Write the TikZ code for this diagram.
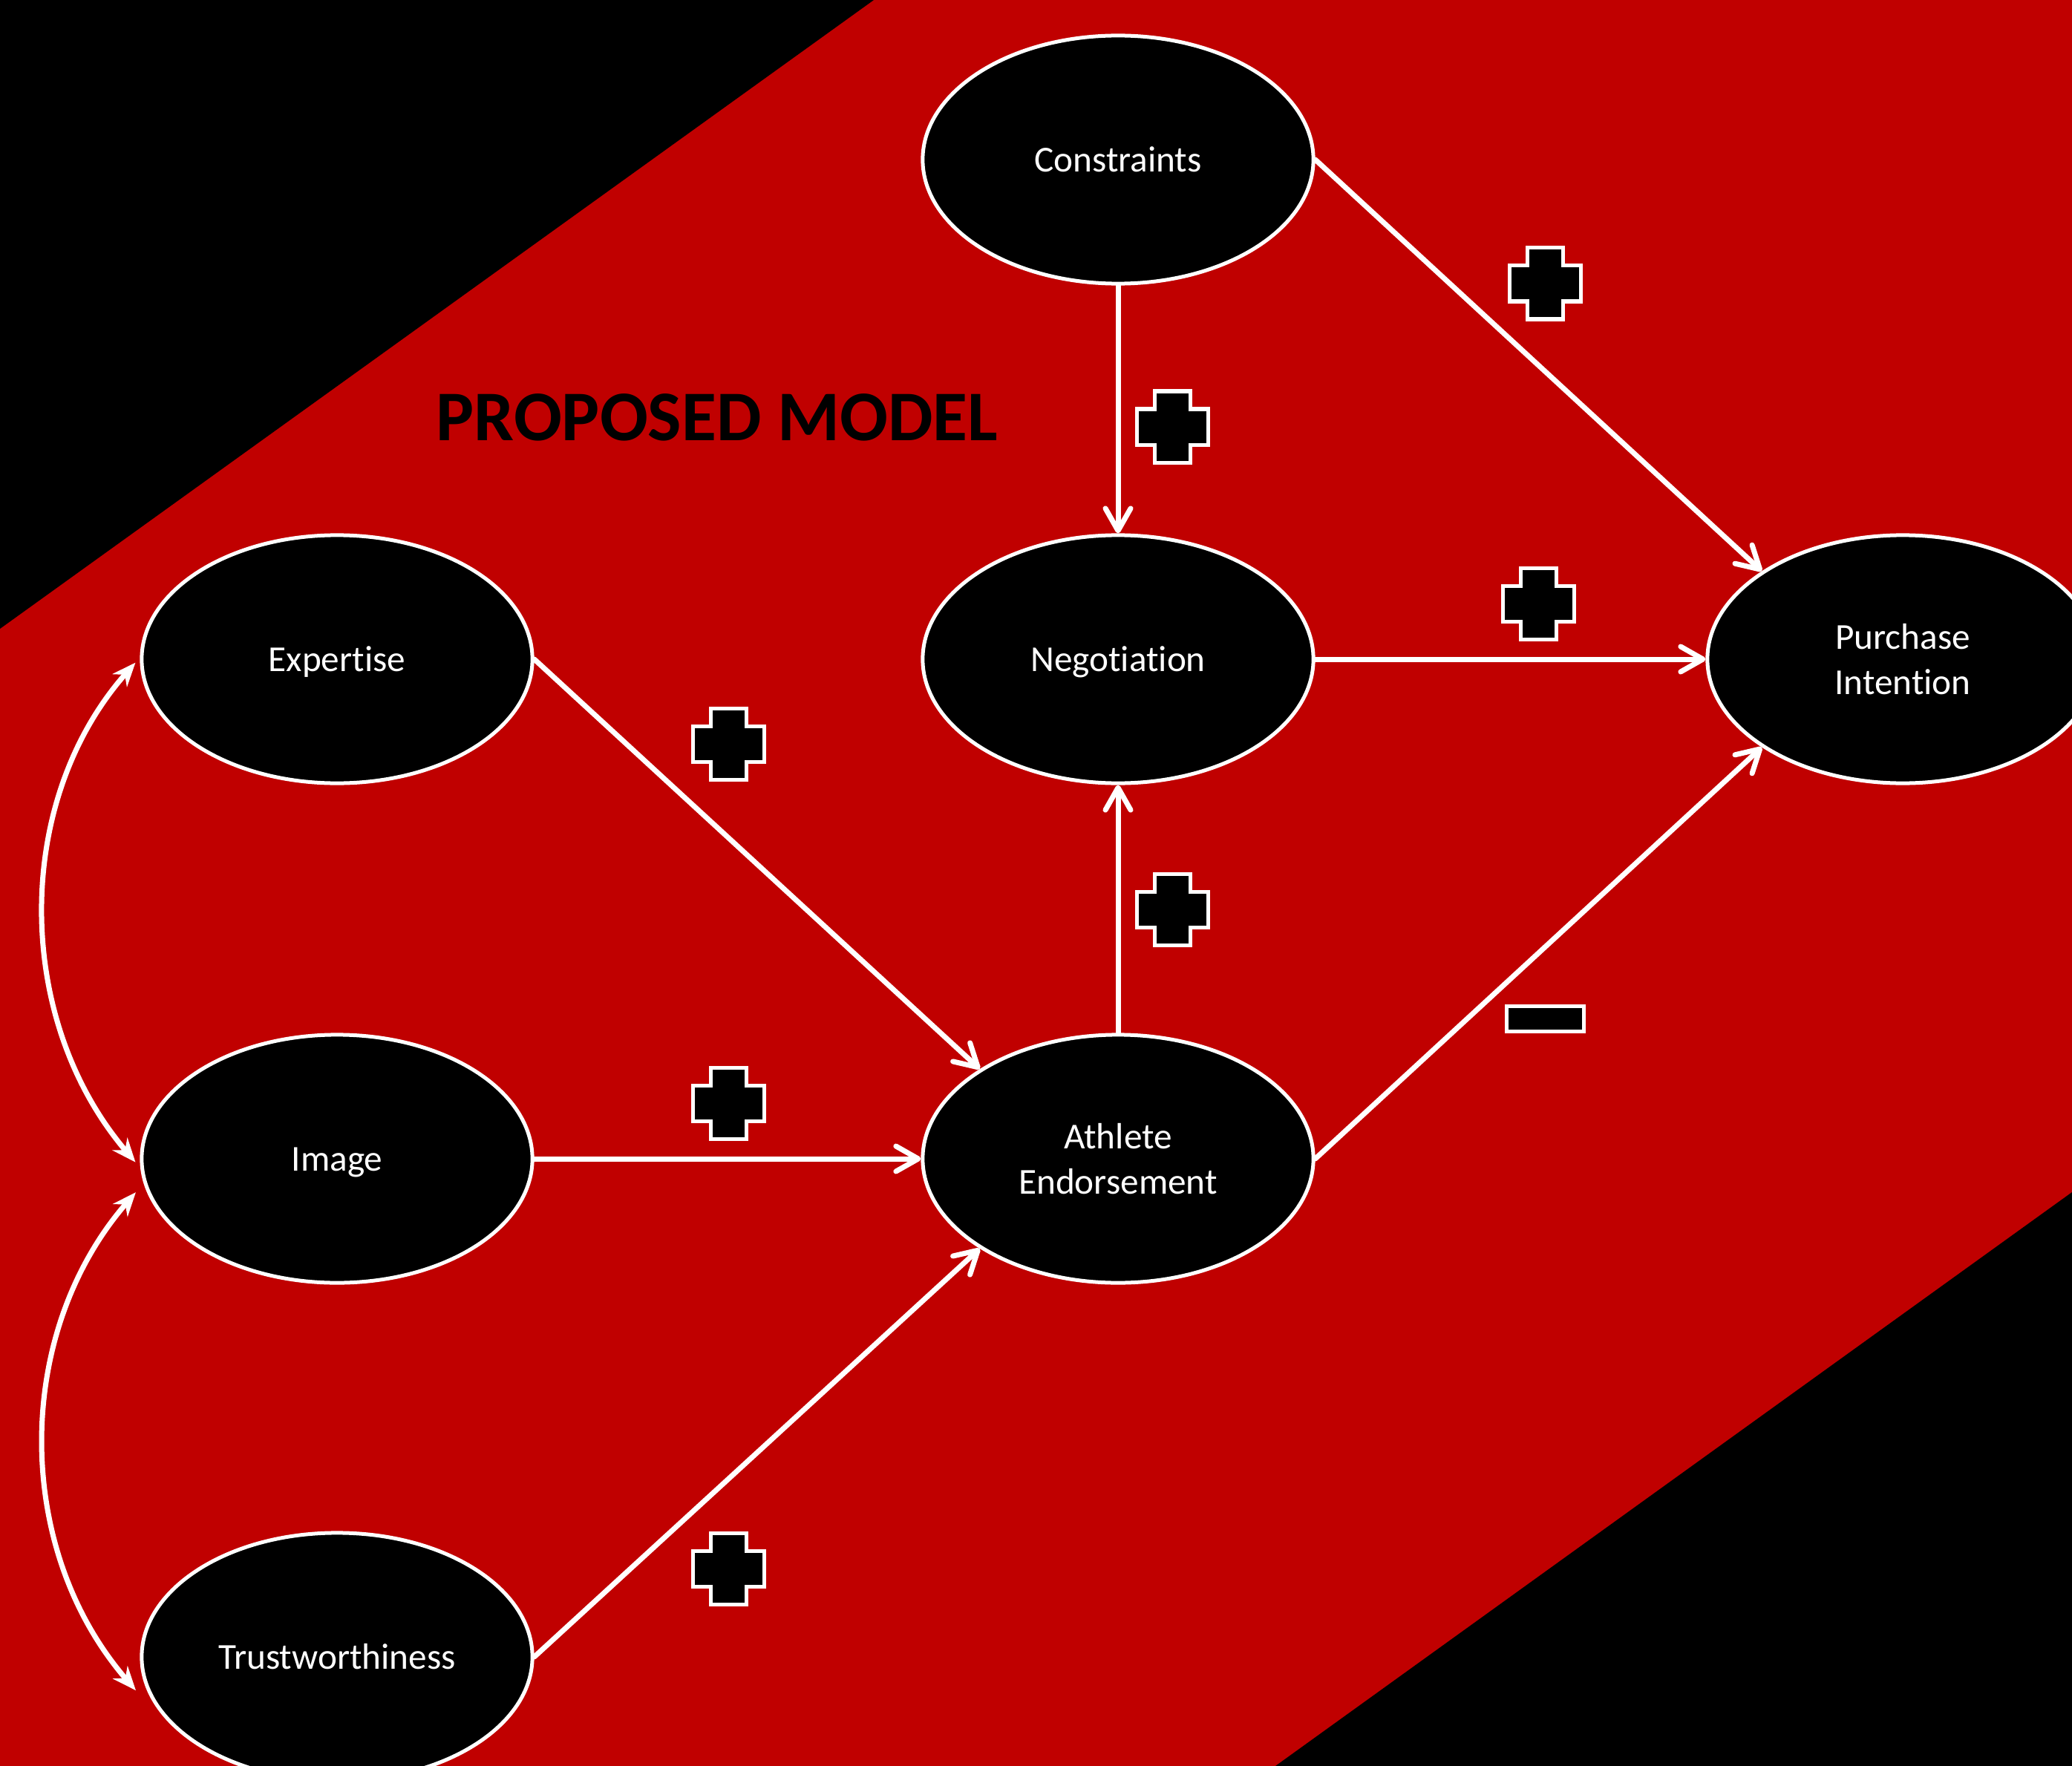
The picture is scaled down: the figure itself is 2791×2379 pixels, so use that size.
\documentclass[tikz,border=0pt]{standalone}
\usepackage{fontspec}
\setmainfont{Carlito}[Ligatures=NoCommon]
\usetikzlibrary{arrows.meta,shapes.geometric}
\definecolor{bgred}{RGB}{192,0,0}
\begin{document}
\begin{tikzpicture}[x=0.01cm,y=-0.01cm,
  construct/.style={ellipse, draw=white, line width=0.05cm, fill=black,
    minimum width=5.26cm, minimum height=3.34cm, inner sep=0pt,
    text=white, align=center, font=\fontsize{14}{17.3}\selectfont},
  oneline/.style={construct, text height=9.8pt, text depth=0.6pt},
  link/.style={draw=white, line width=0.07cm, line cap=round,
    -{Straight Barb[length=0.3cm,width=0.34cm,round]}},
  corr/.style={draw=white, line width=0.07cm,
    {Stealth[length=0.32cm,width=0.26cm]}-{Stealth[length=0.32cm,width=0.26cm]}},
  sign/.style={draw=white, line width=0.05cm, fill=black},
  plussign/.pic={\path[sign] (-48,-24) -- (-24,-24) -- (-24,-48) -- (24,-48) -- (24,-24) -- (48,-24) -- (48,24) -- (24,24) -- (24,48) -- (-24,48) -- (-24,24) -- (-48,24) -- cycle;},
  minussign/.pic={\path[sign] (-52,-17) rectangle (52,17);}
]
\useasboundingbox (0,0) rectangle (2791,2379);
\clip (0,0) rectangle (2791,2379);
% background
\fill[bgred] (0,0) rectangle (2791,2379);
\fill[black] (0,0) -- (1177,0) -- (0,847) -- cycle;
\fill[black] (2791,1606) -- (2791,2379) -- (1718,2379) -- cycle;
% title
\node[font=\fontsize{27.3}{31}\selectfont\bfseries, text=black, inner sep=0pt] (title) at (966,562) {PROPOSED MODEL};
% constructs
\node[oneline] (con) at (1506,215) {Constraints};
\node[oneline] (neg) at (1506,888) {Negotiation};
\node[construct] (pi) at (2563,888) {Purchase\\Intention};
\node[oneline] (exp) at (454,888) {Expertise};
\node[oneline] (img) at (454,1561) {Image};
\node[construct] (ae) at (1506,1561) {Athlete\\Endorsement};
\node[oneline] (tru) at (454,2232) {Trustworthiness};
% paths
\draw[link] (con.east) -- (pi.148);
\draw[link] (con.south) -- (neg.north);
\draw[link] (neg.east) -- (pi.west);
\draw[link] (exp.east) -- (ae.147);
\draw[link] (img.east) -- (ae.west);
\draw[link] (tru.east) -- (ae.213);
\draw[link] (ae.north) -- (neg.south);
\draw[link] (ae.east) -- (pi.212);
% correlations
\draw[corr] ([xshift=-0.06cm]exp.181) .. controls (18,1079) and (18,1372) .. ([xshift=-0.06cm]img.181);
\draw[corr] ([xshift=-0.15cm]img.190) .. controls (18,1797) and (18,2086) .. ([xshift=-0.15cm]tru.190);
% signs
\pic (s1) at (2081,382) {plussign};
\pic (s2) at (1579,575) {plussign};
\pic (s3) at (2072,813) {plussign};
\pic (s4) at (981,1002) {plussign};
\pic (s5) at (1579,1225) {plussign};
\pic (s6) at (981,1486) {plussign};
\pic (s7) at (981,2113) {plussign};
\pic (s8) at (2081,1372) {minussign};
\end{tikzpicture}
\end{document}
